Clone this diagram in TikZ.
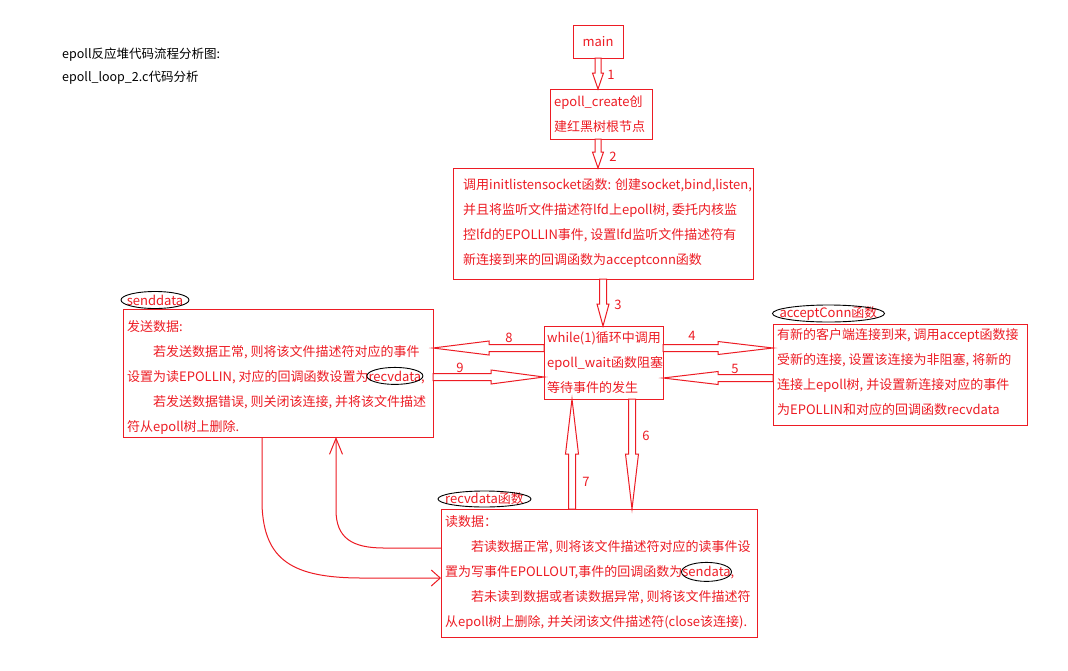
\documentclass[tikz,border=0pt]{standalone}
\usepackage{fontspec}
\setmainfont{Noto Sans CJK SC}
\usetikzlibrary{calc,arrows.meta}
\definecolor{pr}{RGB}{237,28,36}
\tikzset{
  frame/.style={draw=pr, line width=1pt, inner sep=0pt, outer sep=0pt, anchor=north west},
  txt/.style={text=pr, inner sep=0pt, align=left, anchor=west, font=\fontsize{13}{25}\selectfont},
  lbl/.style={text=pr, inner sep=0pt, font=\fontsize{13}{15}\selectfont},
  note/.style={text=black, inner sep=0pt, anchor=west, font=\fontsize{12.5}{15}\selectfont},
  hollow/.style={draw=pr, fill=white, line width=1pt, line join=miter},
  curve/.style={draw=pr, line width=1pt},
  oval/.style={draw=black, line width=0.9pt},
}
\newcommand\ringed[3]{\tikz[baseline=(rw.base)]{\node[inner sep=0pt,text=pr] (rw) {#1};\draw[black,line width=0.9pt,overlay] (rw.center) ellipse [x radius=#2, y radius=#3];}}
\newcommand\hollowarrow[5]{%
  \path ($(#2)!#5!(#1)$) coordinate (hb);
  \draw[hollow] ($(#1)!#3!90:(#2)$) -- ($(hb)!#3!90:(#2)$) -- ($(hb)!#4!90:(#2)$) -- (#2)
    -- ($(hb)!#4!-90:(#2)$) -- ($(hb)!#3!-90:(#2)$) -- ($(#1)!#3!-90:(#2)$) -- cycle;}
\begin{document}
\begin{tikzpicture}[x=1pt,y=-1pt]
\path[use as bounding box, fill=white] (0,0) rectangle (1068,670);

% notes
\node[note] (n1) at (62,55) {epoll反应堆代码流程分析图:};
\node[note] (n2) at (62,78) {epoll\_loop\_2.c代码分析};

% boxes
\node[frame, anchor=center, minimum width=50, minimum height=33, text=pr, font=\fontsize{13}{15}\selectfont] (main) at (598,41.5) {main};
\node[frame, minimum width=102, minimum height=50] (ec) at (550,89) {};
\node[txt] (ect) at ($(ec.west)+(4,0)$) {epoll\_create创\\建红黑树根节点};

\node[frame, minimum width=300, minimum height=111] (ib) at (453,168) {};
\node[txt] (ibt) at ($(ib.west)+(10,0)$) {调用initlistensocket函数: 创建socket,bind,listen,\\并且将监听文件描述符lfd上epoll树, 委托内核监\\控lfd的EPOLLIN事件, 设置lfd监听文件描述符有\\新连接到来的回调函数为acceptconn函数};

\node[frame, minimum width=119, minimum height=73] (cb) at (544,326) {};
\node[txt] (cbt) at ($(cb.west)+(3,0)$) {while(1)循环中调用\\epoll\_wait函数阻塞\\等待事件的发生};

\node[frame, minimum width=254, minimum height=101] (rb) at (773,324) {};
\node[txt] (rbt) at ($(rb.west)+(4,-2)$) {有新的客户端连接到来, 调用accept函数接\\受新的连接, 设置该连接为非阻塞, 将新的\\连接上epoll树, 并设置新连接对应的事件\\为EPOLLIN和对应的回调函数recvdata};

\node[frame, minimum width=310, minimum height=128] (lb) at (123,309) {};
\node[txt] (lbt) at ($(lb.west)+(4,4)$) {发送数据:\\\hspace*{2em}若发送数据正常, 则将该文件描述符对应的事件\\设置为读EPOLLIN, 对应的回调函数设置为\ringed{recvdata}{28pt}{8.5pt},\\\hspace*{2em}若发送数据错误, 则关闭该连接, 并将该文件描述\\符从epoll树上删除.};

\node[frame, minimum width=316, minimum height=128] (bb) at (441,509) {};
\node[txt] (bbt) at ($(bb.west)+(4,0)$) {读数据：\\\hspace*{2em}若读数据正常, 则将该文件描述符对应的读事件设\\置为写事件EPOLLOUT,事件的回调函数为\ringed{sendata}{25pt}{9.5pt},\\\hspace*{2em}若未读到数据或者读数据异常, 则将该文件描述符\\从epoll树上删除, 并关闭该文件描述符(close该连接).};

% oval titles
\node[lbl] (sdt) at (155,300) {senddata};
\draw[oval] (sdt.center) ellipse [x radius=34pt, y radius=8.5pt];
\node[lbl] (act) at (828.5,313.5) {acceptConn函数};
\draw[oval] (act.center) ellipse [x radius=56pt, y radius=8.5pt];
\node[lbl] (rdt) at (484.5,499) {recvdata函数};
\draw[oval] (rdt.center) ellipse [x radius=46.5pt, y radius=8pt];

% arrow end points
\coordinate (a1s) at (main.south);
\coordinate (a1e) at (main.south |- ec.north);
\coordinate (a2s) at (ec.south -| main.south);
\coordinate (a2e) at (main.south |- ib.north);
\coordinate (a3s) at (ib.south);
\coordinate (a3e) at (ib.south |- cb.north);
\coordinate (a4s) at (cb.east |- 0,348);
\coordinate (a4e) at (rb.west |- 0,348);
\coordinate (a5s) at (rb.west |- 0,378);
\coordinate (a5e) at (cb.east |- 0,378);
\coordinate (a8s) at (cb.west |- 0,348);
\coordinate (a8e) at (lb.east |- 0,348);
\coordinate (a9s) at (lb.east |- 0,377);
\coordinate (a9e) at (cb.west |- 0,377);
\coordinate (a6s) at (cb.south -| 632,0);
\coordinate (a6e) at (bb.north -| 632,0);
\coordinate (a7s) at (bb.north -| 572,0);
\coordinate (a7e) at (cb.south -| 572,0);

\hollowarrow{a1s}{a1e}{3pt}{5.5pt}{16pt}
\hollowarrow{a2s}{a2e}{3pt}{5.5pt}{16pt}
\hollowarrow{a3s}{a3e}{3.5pt}{6pt}{22pt}
\hollowarrow{a4s}{a4e}{3.5pt}{6.5pt}{55pt}
\hollowarrow{a5s}{a5e}{3.5pt}{6.5pt}{55pt}
\hollowarrow{a8s}{a8e}{3.5pt}{7pt}{56pt}
\hollowarrow{a9s}{a9e}{3.5pt}{7pt}{53pt}
\hollowarrow{a6s}{a6e}{3.5pt}{6.5pt}{55pt}
\hollowarrow{a7s}{a7e}{3.5pt}{6.5pt}{55pt}

% labels
\node[lbl] (l1) at (611,75) {1};
\node[lbl] (l2) at (613,157) {2};
\node[lbl] (l3) at (618,305) {3};
\node[lbl] (l4) at (692,336) {4};
\node[lbl] (l5) at (735,369) {5};
\node[lbl] (l6) at (646,436) {6};
\node[lbl] (l7) at (586,482) {7};
\node[lbl] (l8) at (509,338) {8};
\node[lbl] (l9) at (460,368) {9};

% curved connectors
\coordinate (cAs) at (bb.west |- 0,548);
\coordinate (cAe) at (lb.south -| 336,0);
\draw[curve, -{Straight Barb[length=16pt,width=13pt]}] (cAs) -- (384,548) .. controls (352,548) and (336,538) .. (336,510) -- (cAe);
\coordinate (cBs) at (lb.south -| 262,0);
\coordinate (cBe) at (bb.west |- 0,578);
\draw[curve, -{Straight Barb[length=9pt,width=16pt]}] (cBs) -- (262,505) .. controls (264,560) and (292,578) .. (362,578) -- (cBe);
\end{tikzpicture}
\end{document}
